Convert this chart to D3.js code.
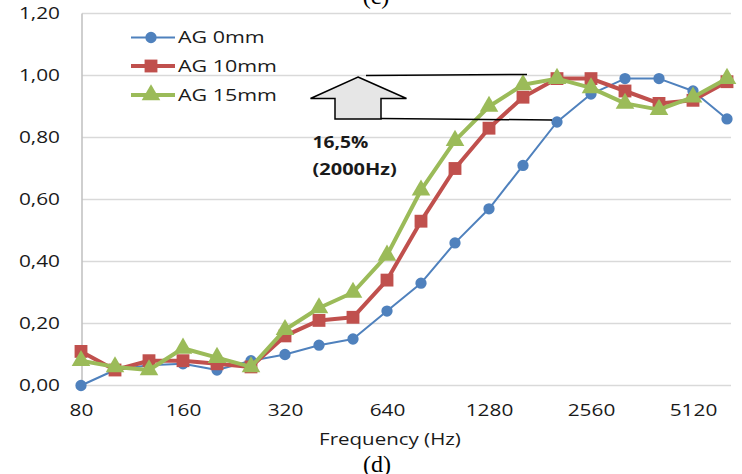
<!DOCTYPE html>
<html>
<head>
<meta charset="utf-8">
<script src="https://cdn.jsdelivr.net/npm/d3@7"></script>
<style>
  body { margin: 0; background: white; }
  svg { display: block; font-family: "Open Sans", sans-serif; }
</style>
</head>
<body>
<div id="chart"></div>
<script>
const freqs = ["80", "100", "125", "160", "200", "250", "320", "400", "500", "640",
  "800", "1000", "1280", "1600", "2000", "2560", "3200", "4000", "5120", "6400"];
const shownTicks = ["80", "160", "320", "640", "1280", "2560", "5120"];
const ag0 = [0.00, 0.05, 0.065, 0.07, 0.05, 0.08, 0.10, 0.13, 0.15, 0.24,
  0.33, 0.46, 0.57, 0.71, 0.85, 0.94, 0.99, 0.99, 0.95, 0.86];
const ag10 = [0.11, 0.05, 0.08, 0.08, 0.07, 0.06, 0.16, 0.21, 0.22, 0.34,
  0.53, 0.70, 0.83, 0.93, 0.99, 0.99, 0.95, 0.91, 0.92, 0.98];
const ag15 = [0.08, 0.06, 0.05, 0.12, 0.09, 0.06, 0.18, 0.25, 0.30, 0.42,
  0.63, 0.79, 0.90, 0.97, 0.99, 0.96, 0.91, 0.89, 0.93, 0.99];
const yTicks = [0, 0.2, 0.4, 0.6, 0.8, 1.0, 1.2];

const series = [
  { name: "AG 0mm", values: ag0, color: "#4f81bd", width: 2, symbol: d3.symbolCircle, size: 100 },
  { name: "AG 10mm", values: ag10, color: "#c0504d", width: 4, symbol: d3.symbolSquare, size: 165 },
  { name: "AG 15mm", values: ag15, color: "#9bbb59", width: 4, symbol: d3.symbolTriangle, size: 150 }
];

const width = 742, height = 474;
const plotLeft = 82, plotRight = 731;

const svg = d3.select("#chart").append("svg")
  .attr("width", width)
  .attr("height", height);

const x = d3.scalePoint().domain(freqs).range([81, 727]);
const y = d3.scaleLinear().domain([0, 1.2]).range([385.5, 13.5]);

const fmt = v => d3.format(".2f")(v).replace(".", ",");

// stretch text horizontally (reference type is wide)
function stretch(sel, k) {
  sel.each(function () {
    const w = this.getComputedTextLength();
    this.setAttribute("textLength", w * k);
    this.setAttribute("lengthAdjust", "spacingAndGlyphs");
  });
}

// gridlines
svg.append("g")
  .selectAll("line")
  .data(yTicks)
  .join("line")
  .attr("x1", plotLeft)
  .attr("x2", plotRight)
  .attr("y1", d => y(d))
  .attr("y2", d => y(d))
  .attr("stroke", "#d9d9d9")
  .attr("stroke-width", 1.5);

svg.append("line")
  .attr("x1", plotLeft).attr("x2", plotLeft)
  .attr("y1", y(1.2)).attr("y2", y(0))
  .attr("stroke", "#bfbfbf")
  .attr("stroke-width", 1.5);

// y axis labels
const yAxis = svg.append("g")
  .attr("transform", `translate(${plotLeft},0)`)
  .call(d3.axisLeft(y).tickValues(yTicks).tickFormat(fmt).tickSize(0).tickPadding(22));
yAxis.select(".domain").remove();
yAxis.selectAll("text")
  .style("font-family", "Open Sans")
  .style("font-size", "16px")
  .attr("fill", "#1a1a1a");
stretch(yAxis.selectAll("text"), 1.3);

// x axis labels
const xAxis = svg.append("g")
  .attr("transform", `translate(0,${y(0)})`)
  .call(d3.axisBottom(x).tickValues(shownTicks).tickSize(0).tickPadding(19));
xAxis.select(".domain").remove();
xAxis.selectAll("text")
  .style("font-family", "Open Sans")
  .style("font-size", "16px")
  .attr("fill", "#1a1a1a");
stretch(xAxis.selectAll("text"), 1.3);

const title = svg.append("text")
  .attr("x", 390)
  .attr("y", 445)
  .attr("text-anchor", "middle")
  .style("font-size", "16px")
  .attr("fill", "#1a1a1a")
  .text("Frequency (Hz)");
stretch(title, 1.28);

// panel captions (partly cut by the picture edges, as in the source)
svg.append("text")
  .attr("x", 377)
  .attr("y", 472)
  .attr("text-anchor", "middle")
  .style("font-family", "'Liberation Serif', serif")
  .style("font-size", "24px")
  .attr("fill", "#000")
  .text("(d)");

svg.append("text")
  .attr("x", 376)
  .attr("y", 4)
  .attr("text-anchor", "middle")
  .style("font-family", "'Liberation Serif', serif")
  .style("font-size", "24px")
  .attr("fill", "#000")
  .text("(c)");

// series
const line = d3.line()
  .x((d, i) => x(freqs[i]))
  .y(d => y(d));

const gSeries = svg.append("g")
  .selectAll("g")
  .data(series)
  .join("g");

gSeries.append("path")
  .attr("d", d => line(d.values))
  .attr("fill", "none")
  .attr("stroke", d => d.color)
  .attr("stroke-width", d => d.width)
  .attr("stroke-linejoin", "round");

gSeries.each(function (s) {
  d3.select(this).selectAll("path.mark")
    .data(s.values)
    .join("path")
    .attr("class", "mark")
    .attr("d", d3.symbol().type(s.symbol).size(s.size))
    .attr("transform", (d, i) => `translate(${x(freqs[i])},${y(d)})`)
    .attr("fill", s.color);
});

// legend
const legend = svg.append("g")
  .selectAll("g")
  .data(series)
  .join("g")
  .attr("transform", (d, i) => `translate(131,${[37.5, 66, 95][i]})`);

legend.append("line")
  .attr("x1", 0).attr("x2", 44)
  .attr("stroke", d => d.color)
  .attr("stroke-width", d => d.width);

legend.append("path")
  .attr("d", d => d3.symbol().type(d.symbol).size(d.size)())
  .attr("transform", "translate(20,0)")
  .attr("fill", d => d.color);

const legendText = legend.append("text")
  .attr("x", 47)
  .attr("dy", "0.36em")
  .style("font-size", "16.5px")
  .attr("fill", "#1a1a1a")
  .text(d => d.name);
stretch(legendText, 1.3);

// annotation: block arrow and reference lines
svg.append("path")
  .attr("d", "M358,77 L406.5,98.5 L381,98.5 L381,119 L335,119 L335,98.5 L310.5,98.5 Z")
  .attr("fill", "#e6e6e6")
  .attr("stroke", "#000")
  .attr("stroke-width", 1.5)
  .attr("stroke-linejoin", "miter");

svg.append("line")
  .attr("x1", 366).attr("y1", 75.5).attr("x2", 527).attr("y2", 74.5)
  .attr("stroke", "#000").attr("stroke-width", 1.5);
svg.append("line")
  .attr("x1", 381).attr("y1", 118.5).attr("x2", 552).attr("y2", 120)
  .attr("stroke", "#000").attr("stroke-width", 1.5);

const note = svg.append("g")
  .style("font-size", "16px")
  .attr("font-weight", "bold")
  .attr("fill", "#1a1a1a");
const n1 = note.append("text").attr("x", 312.5).attr("y", 148).text("16,5%");
const n2 = note.append("text").attr("x", 312.5).attr("y", 175).text("(2000Hz)");
stretch(n1, 1.2);
stretch(n2, 1.25);
</script>
</body>
</html>
